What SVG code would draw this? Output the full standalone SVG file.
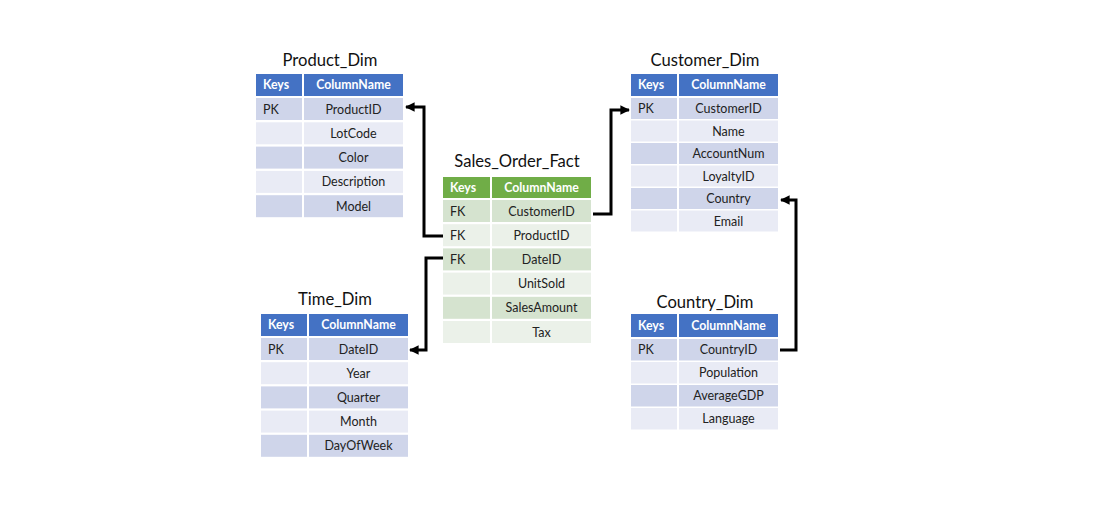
<svg xmlns="http://www.w3.org/2000/svg" width="1117" height="512" viewBox="0 0 1117 512">
<style>
.title{font-family:Lato,"Open Sans","Liberation Sans",sans-serif;font-size:16.6px;fill:#111;text-anchor:middle}
.hb{fill:#4472C4}.hg{fill:#70AD47}
.b1{fill:#CFD5EA}.b2{fill:#E9EBF5}
.g1{fill:#D5E3CF}.g2{fill:#EBF1E9}
.ht{font-family:Lato,"Open Sans","Liberation Sans",sans-serif;font-size:12.3px;font-weight:bold;fill:#fff}
.t{font-family:Lato,"Open Sans","Liberation Sans",sans-serif;font-size:12.5px;fill:#222}
.c{text-anchor:middle}
.conn{fill:none;stroke:#000;stroke-width:3}
</style>
<defs>
<marker id="ah" viewBox="0 0 10 10" refX="9" refY="5" markerWidth="3.2" markerHeight="3.2" orient="auto" markerUnits="strokeWidth">
<path d="M0,0 L10,5 L0,10 z" fill="#000"/>
</marker>
</defs>
<rect width="1117" height="512" fill="#fff"/>

<g id="product_dim">
<text class="title" x="330" y="66">Product_Dim</text>
<rect class="hb" x="256" y="74" width="46" height="22"/><rect class="hb" x="304" y="74" width="99" height="22"/>
<text class="ht" x="263" y="89">Keys</text><text class="ht c" x="353.5" y="89">ColumnName</text>
<rect class="b1" x="256" y="98" width="46" height="22"/><rect class="b1" x="304" y="98" width="99" height="22"/>
<rect class="b2" x="256" y="122.3" width="46" height="22"/><rect class="b2" x="304" y="122.3" width="99" height="22"/>
<rect class="b1" x="256" y="146.6" width="46" height="22"/><rect class="b1" x="304" y="146.6" width="99" height="22"/>
<rect class="b2" x="256" y="170.9" width="46" height="22"/><rect class="b2" x="304" y="170.9" width="99" height="22"/>
<rect class="b1" x="256" y="195.2" width="46" height="22"/><rect class="b1" x="304" y="195.2" width="99" height="22"/>
<text class="t" x="263" y="113.5">PK</text>
<text class="t c" x="353.5" y="113.5">ProductID</text>
<text class="t c" x="353.5" y="137.8">LotCode</text>
<text class="t c" x="353.5" y="162.1">Color</text>
<text class="t c" x="353.5" y="186.4">Description</text>
<text class="t c" x="353.5" y="210.7">Model</text>
</g>

<g id="sales_order_fact">
<text class="title" x="517" y="167">Sales_Order_Fact</text>
<rect class="hg" x="443" y="177" width="47" height="21"/><rect class="hg" x="492" y="177" width="99" height="21"/>
<text class="ht" x="450" y="192">Keys</text><text class="ht c" x="541.5" y="192">ColumnName</text>
<rect class="g1" x="443" y="200" width="47" height="22"/><rect class="g1" x="492" y="200" width="99" height="22"/>
<rect class="g2" x="443" y="224.2" width="47" height="22"/><rect class="g2" x="492" y="224.2" width="99" height="22"/>
<rect class="g1" x="443" y="248.4" width="47" height="22"/><rect class="g1" x="492" y="248.4" width="99" height="22"/>
<rect class="g2" x="443" y="272.6" width="47" height="22"/><rect class="g2" x="492" y="272.6" width="99" height="22"/>
<rect class="g1" x="443" y="296.8" width="47" height="22"/><rect class="g1" x="492" y="296.8" width="99" height="22"/>
<rect class="g2" x="443" y="321" width="47" height="22"/><rect class="g2" x="492" y="321" width="99" height="22"/>
<text class="t" x="450" y="215.5">FK</text>
<text class="t" x="450" y="239.7">FK</text>
<text class="t" x="450" y="263.9">FK</text>
<text class="t c" x="541.5" y="215.5">CustomerID</text>
<text class="t c" x="541.5" y="239.7">ProductID</text>
<text class="t c" x="541.5" y="263.9">DateID</text>
<text class="t c" x="541.5" y="288.1">UnitSold</text>
<text class="t c" x="541.5" y="312.3">SalesAmount</text>
<text class="t c" x="541.5" y="336.5">Tax</text>
</g>

<g id="customer_dim">
<text class="title" x="705" y="66">Customer_Dim</text>
<rect class="hb" x="631" y="74" width="46" height="22"/><rect class="hb" x="679" y="74" width="99" height="22"/>
<text class="ht" x="638" y="89">Keys</text><text class="ht c" x="728.5" y="89">ColumnName</text>
<rect class="b1" x="631" y="98" width="46" height="21"/><rect class="b1" x="679" y="98" width="99" height="21"/>
<rect class="b2" x="631" y="120.5" width="46" height="21"/><rect class="b2" x="679" y="120.5" width="99" height="21"/>
<rect class="b1" x="631" y="143" width="46" height="21"/><rect class="b1" x="679" y="143" width="99" height="21"/>
<rect class="b2" x="631" y="165.5" width="46" height="21"/><rect class="b2" x="679" y="165.5" width="99" height="21"/>
<rect class="b1" x="631" y="188" width="46" height="21"/><rect class="b1" x="679" y="188" width="99" height="21"/>
<rect class="b2" x="631" y="210.5" width="46" height="21"/><rect class="b2" x="679" y="210.5" width="99" height="21"/>
<text class="t" x="638" y="113">PK</text>
<text class="t c" x="728.5" y="113">CustomerID</text>
<text class="t c" x="728.5" y="135.5">Name</text>
<text class="t c" x="728.5" y="158">AccountNum</text>
<text class="t c" x="728.5" y="180.5">LoyaltyID</text>
<text class="t c" x="728.5" y="203">Country</text>
<text class="t c" x="728.5" y="225.5">Email</text>
</g>

<g id="time_dim">
<text class="title" x="335" y="305">Time_Dim</text>
<rect class="hb" x="261" y="314" width="46" height="22"/><rect class="hb" x="309" y="314" width="99" height="22"/>
<text class="ht" x="268" y="329">Keys</text><text class="ht c" x="358.5" y="329">ColumnName</text>
<rect class="b1" x="261" y="338" width="46" height="22"/><rect class="b1" x="309" y="338" width="99" height="22"/>
<rect class="b2" x="261" y="362.2" width="46" height="22"/><rect class="b2" x="309" y="362.2" width="99" height="22"/>
<rect class="b1" x="261" y="386.4" width="46" height="22"/><rect class="b1" x="309" y="386.4" width="99" height="22"/>
<rect class="b2" x="261" y="410.6" width="46" height="22"/><rect class="b2" x="309" y="410.6" width="99" height="22"/>
<rect class="b1" x="261" y="434.8" width="46" height="22"/><rect class="b1" x="309" y="434.8" width="99" height="22"/>
<text class="t" x="268" y="353.5">PK</text>
<text class="t c" x="358.5" y="353.5">DateID</text>
<text class="t c" x="358.5" y="377.7">Year</text>
<text class="t c" x="358.5" y="401.9">Quarter</text>
<text class="t c" x="358.5" y="426.1">Month</text>
<text class="t c" x="358.5" y="450.3">DayOfWeek</text>
</g>

<g id="country_dim">
<text class="title" x="705" y="308">Country_Dim</text>
<rect class="hb" x="631" y="314" width="46" height="23"/><rect class="hb" x="679" y="314" width="99" height="23"/>
<text class="ht" x="638" y="330">Keys</text><text class="ht c" x="728.5" y="330">ColumnName</text>
<rect class="b1" x="631" y="339" width="46" height="21.5"/><rect class="b1" x="679" y="339" width="99" height="21.5"/>
<rect class="b2" x="631" y="362" width="46" height="21.5"/><rect class="b2" x="679" y="362" width="99" height="21.5"/>
<rect class="b1" x="631" y="385" width="46" height="21.5"/><rect class="b1" x="679" y="385" width="99" height="21.5"/>
<rect class="b2" x="631" y="408" width="46" height="21.5"/><rect class="b2" x="679" y="408" width="99" height="21.5"/>
<text class="t" x="638" y="354">PK</text>
<text class="t c" x="728.5" y="354">CountryID</text>
<text class="t c" x="728.5" y="377">Population</text>
<text class="t c" x="728.5" y="400">AverageGDP</text>
<text class="t c" x="728.5" y="423">Language</text>
</g>

<g id="connectors">
<path class="conn" d="M443,236 H424 V107 H406" marker-end="url(#ah)"/>
<path class="conn" d="M443,258 H426 V350 H410" marker-end="url(#ah)"/>
<path class="conn" d="M593,214 H611 V110 H629" marker-end="url(#ah)"/>
<path class="conn" d="M780,350 H796 V200 H781" marker-end="url(#ah)"/>
</g>
</svg>
